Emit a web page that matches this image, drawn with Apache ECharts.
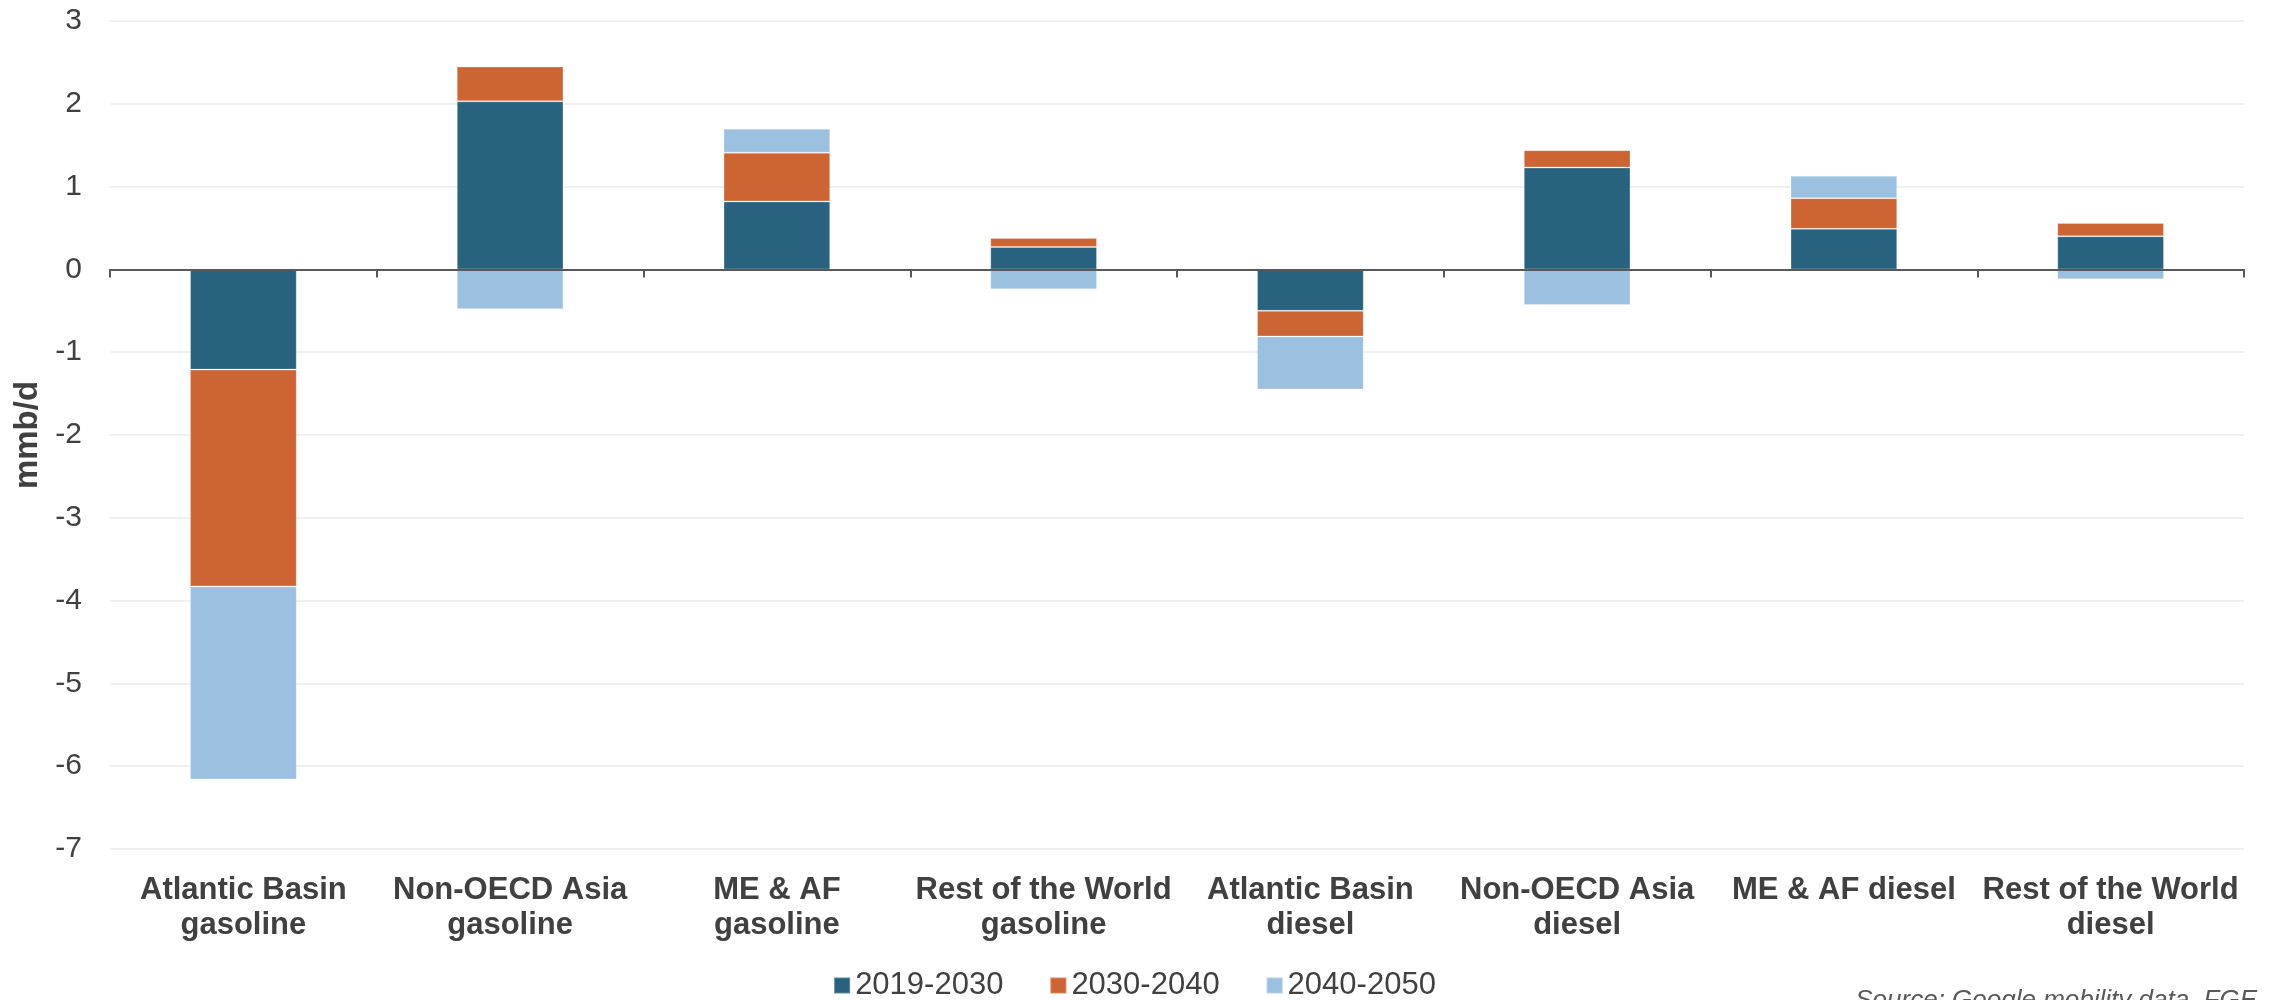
<!DOCTYPE html>
<html>
<head>
<meta charset="utf-8">
<title>Refined product demand change by region</title>
<script src="https://cdn.jsdelivr.net/npm/echarts@6/dist/echarts.min.js"></script>
<style>
  html, body { margin: 0; padding: 0; background: #ffffff; }
  #chart { width: 2269px; height: 1000px; }
</style>
</head>
<body>
<div id="chart"></div>
<script>
// Regions / products on the category axis
const categories = [
  'Atlantic Basin\ngasoline',
  'Non-OECD Asia\ngasoline',
  'ME & AF\ngasoline',
  'Rest of the World\ngasoline',
  'Atlantic Basin\ndiesel',
  'Non-OECD Asia\ndiesel',
  'ME & AF diesel',
  'Rest of the World\ndiesel'
];

// Demand change per period, mmb/d
const period2019_2030 = [-1.21, 2.03, 0.82, 0.27, -0.50, 1.23, 0.49, 0.40];
const period2030_2040 = [-2.62, 0.42, 0.59, 0.11, -0.31, 0.21, 0.37, 0.16];
const period2040_2050 = [-2.33, -0.48, 0.29, -0.24, -0.64, -0.43, 0.27, -0.12];

const seriesNames = ['2019-2030', '2030-2040', '2040-2050'];
const seriesColors = ['#28627E', '#CD6433', '#9BC0E0'];

const FONT = 'Arial, "Liberation Sans", sans-serif';
const TEXT = '#404040';
const AXIS = '#595959';

const chart = echarts.init(document.getElementById('chart'));

function barSeries(name, data, color) {
  return {
    name: name,
    type: 'bar',
    stack: 'total',
    stackStrategy: 'samesign',
    xAxisIndex: 0,
    barWidth: '40%',
    data: data,
    itemStyle: {
      color: color,
      borderColor: 'rgba(255,255,255,0.25)',
      borderWidth: 1
    },
    emphasis: { disabled: true }
  };
}

chart.setOption({
  animation: false,
  backgroundColor: '#ffffff',
  textStyle: { fontFamily: FONT },
  grid: {
    left: 110,
    right: 25,
    top: 21,
    bottom: 151,
    containLabel: false,
    outerBoundsMode: 'none'
  },
  legend: {
    left: 'center',
    top: 965,
    icon: 'rect',
    itemWidth: 16,
    itemHeight: 16,
    itemGap: 46,
    data: seriesNames,
    textStyle: { fontFamily: FONT, fontSize: 31, color: TEXT }
  },
  xAxis: [
    {
      // labels along the bottom of the plot
      type: 'category',
      data: categories,
      position: 'bottom',
      axisLine: { show: false, onZero: false },
      axisTick: { show: false },
      splitLine: { show: false },
      axisLabel: {
        interval: 0,
        margin: 24,
        fontFamily: FONT,
        fontSize: 31,
        fontWeight: 'bold',
        lineHeight: 35,
        color: TEXT,
        align: 'center'
      }
    },
    {
      // zero baseline with category boundary ticks
      type: 'category',
      data: categories,
      position: 'bottom',
      z: 10,
      axisLine: { show: true, onZero: true, lineStyle: { color: AXIS, width: 2 } },
      axisTick: { show: true, length: 8, lineStyle: { color: AXIS, width: 2 } },
      axisLabel: { show: false },
      splitLine: { show: false }
    }
  ],
  yAxis: {
    type: 'value',
    min: -7,
    max: 3,
    interval: 1,
    name: 'mmb/d',
    nameLocation: 'middle',
    nameGap: 66,
    nameTextStyle: { fontFamily: FONT, fontSize: 33, fontWeight: 'bold', color: TEXT },
    axisLine: { show: false },
    axisTick: { show: false },
    axisLabel: { margin: 28, fontFamily: FONT, fontSize: 30, color: TEXT },
    splitLine: { show: true, lineStyle: { color: '#F0F0F0', width: 2 } }
  },
  series: [
    barSeries(seriesNames[0], period2019_2030, seriesColors[0]),
    barSeries(seriesNames[1], period2030_2040, seriesColors[1]),
    barSeries(seriesNames[2], period2040_2050, seriesColors[2])
  ],
  graphic: [
    {
      type: 'text',
      right: 12,
      top: 988,
      style: {
        text: 'Source: Google mobility data, FGE',
        font: 'italic 26px ' + FONT,
        fill: AXIS
      }
    }
  ]
});
</script>
</body>
</html>
